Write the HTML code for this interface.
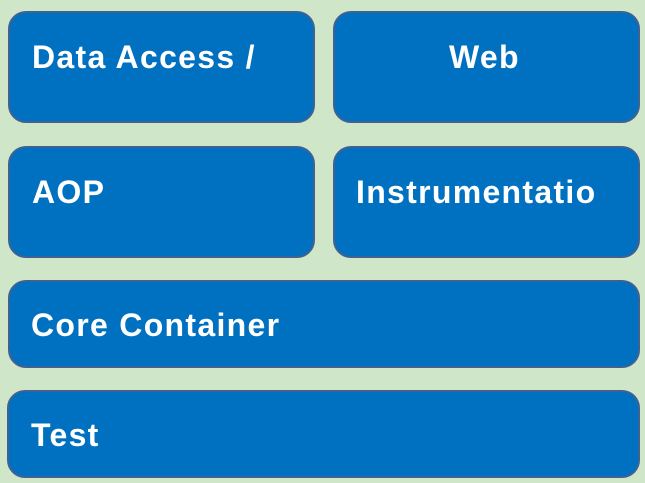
<!DOCTYPE html>
<html><head><style>
html,body{margin:0;padding:0}
body{width:645px;height:483px;background:#cfe6c8;position:relative;overflow:hidden;font-family:"Liberation Sans",Arial,sans-serif}
.b{position:absolute;box-sizing:border-box;background:#0070c0;border:2px solid #3f6293;border-radius:18px;color:#fff;font-weight:bold;font-size:32px;letter-spacing:1.3px;white-space:nowrap;overflow:hidden}
.b span{position:absolute;line-height:1}
</style></head><body>
<div class="b" style="left:8px;top:11px;width:307px;height:112px"><span style="left:22px;top:28px">Data Access /</span></div>
<div class="b" style="left:333px;top:11px;width:307px;height:112px"><span style="left:114px;top:28px">Web</span></div>
<div class="b" style="left:8px;top:146px;width:307px;height:112px"><span style="left:22px;top:28px">AOP</span></div>
<div class="b" style="left:333px;top:146px;width:307px;height:112px"><span style="left:21px;top:28px">Instrumentatio</span></div>
<div class="b" style="left:8px;top:280px;width:632px;height:88px"><span style="left:21px;top:27px">Core Container</span></div>
<div class="b" style="left:7px;top:390px;width:633px;height:88px"><span style="left:22px;top:27px">Test</span></div>
</body></html>
